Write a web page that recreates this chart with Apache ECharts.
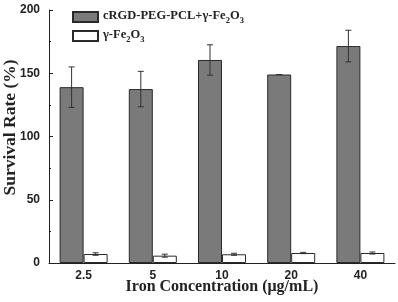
<html>
<head>
    <title></title>
    <script src="https://cdn.jsdelivr.net/npm/echarts@6/dist/echarts.min.js" type="text/javascript"></script>
</head>
<body style="margin:0;background:#fff;">
    <div id="chartDiv" style="width:398px;height:302px;"></div>
</body>
<script type="text/javascript" charset="utf-8">
        // data
        var categories = ['2.5', '5', '10', '20', '40'];
        var rgdValues = [139, 137.5, 160.5, 149, 171.5];
        var rgdErrors = [16, 14, 12, 0, 12.5];
        var feValues = [7.1, 5.8, 6.9, 7.9, 7.9];
        var feErrors = [1, 1.2, 0.8, 0.5, 0.8];
        var yTicks = [0, 50, 100, 150, 200];

        var nameRgd = 'cRGD-PEG-PCL+γ-Fe2O3';
        var nameFe = 'γ-Fe2O3';
        var barW = 24;

        function errorSeries(values, errors, side) {
            var data = [];
            for (var i = 0; i < values.length; i++) {
                data.push([i, values[i] - errors[i], values[i] + errors[i]]);
            }
            return {
                type: 'custom',
                z: 5,
                data: data,
                renderItem: function (params, api) {
                    var lo = api.coord([api.value(0), api.value(1)]);
                    var hi = api.coord([api.value(0), api.value(2)]);
                    var x = lo[0] + side * barW / 2;
                    var cap = 3;
                    var st = { stroke: '#333', lineWidth: 1 };
                    return {
                        type: 'group',
                        children: [
                            { type: 'line', shape: { x1: x, y1: lo[1], x2: x, y2: hi[1] }, style: st },
                            { type: 'line', shape: { x1: x - cap, y1: lo[1], x2: x + cap, y2: lo[1] }, style: st },
                            { type: 'line', shape: { x1: x - cap, y1: hi[1], x2: x + cap, y2: hi[1] }, style: st }
                        ]
                    };
                }
            };
        }

        var chart = echarts.init(document.getElementById('chartDiv'));
        var option = {
            animation: false,
            grid: { left: 49, right: 3, top: 10, bottom: 39, outerBoundsMode: 'none' },
            legend: {
                orient: 'vertical',
                left: 72,
                top: 9,
                padding: 0,
                itemWidth: 25,
                itemHeight: 10,
                itemGap: 3,
                icon: 'rect',
                data: [nameRgd, nameFe],
                formatter: function (name) {
                    if (name === nameRgd) {
                        return '{b|cRGD-PEG-PCL+γ-Fe}{s|2}{b|O}{s|3}';
                    }
                    return '{b|γ-Fe}{s|2}{b|O}{s|3}';
                },
                textStyle: {
                    rich: {
                        b: { fontFamily: 'Liberation Serif', fontWeight: 'bold', fontSize: 12.5, color: '#222', verticalAlign: 'top', lineHeight: 16 },
                        s: { fontFamily: 'Liberation Serif', fontWeight: 'bold', fontSize: 8.5, color: '#222', verticalAlign: 'bottom', lineHeight: 16 }
                    }
                }
            },
            xAxis: {
                type: 'category',
                data: categories,
                name: 'Iron Concentration (μg/mL)',
                nameLocation: 'middle',
                nameGap: 16,
                nameMoveOverlap: false,
                nameTextStyle: { fontFamily: 'Liberation Serif', fontWeight: 'bold', fontSize: 16, color: '#222' },
                axisLine: { lineStyle: { color: '#222', width: 1 } },
                axisTick: { inside: true, length: 3, lineStyle: { color: '#222' } },
                axisLabel: { fontFamily: 'Liberation Sans', fontWeight: 'bold', fontSize: 12, color: '#222', margin: 7 }
            },
            yAxis: {
                type: 'value',
                min: yTicks[0],
                max: yTicks[yTicks.length - 1],
                interval: 50,
                name: 'Survival Rate (%)',
                nameLocation: 'middle',
                nameGap: 30,
                nameMoveOverlap: false,
                nameTextStyle: { fontFamily: 'Liberation Serif', fontWeight: 'bold', fontSize: 17.5, color: '#222', padding: [0, 0, 0, 18] },
                axisLine: { show: true, lineStyle: { color: '#222', width: 1 } },
                axisTick: { show: true, inside: true, length: 4, lineStyle: { color: '#222' } },
                minorTick: { show: true, splitNumber: 2, length: 2, lineStyle: { color: '#222' } },
                splitLine: { show: false },
                axisLabel: { fontFamily: 'Liberation Sans', fontWeight: 'bold', fontSize: 12, color: '#222', margin: 9 }
            },
            series: [
                {
                    name: nameRgd,
                    type: 'bar',
                    data: rgdValues,
                    barWidth: barW,
                    barGap: '0%',
                    itemStyle: { color: '#7a7a7a', borderColor: '#2a2a2a', borderWidth: 1 }
                },
                {
                    name: nameFe,
                    type: 'bar',
                    data: feValues,
                    barWidth: barW,
                    itemStyle: { color: '#fff', borderColor: '#2a2a2a', borderWidth: 1 }
                },
                errorSeries(rgdValues, rgdErrors, -1),
                errorSeries(feValues, feErrors, 1)
            ]
        };
        chart.setOption(option);
</script>
</html>
